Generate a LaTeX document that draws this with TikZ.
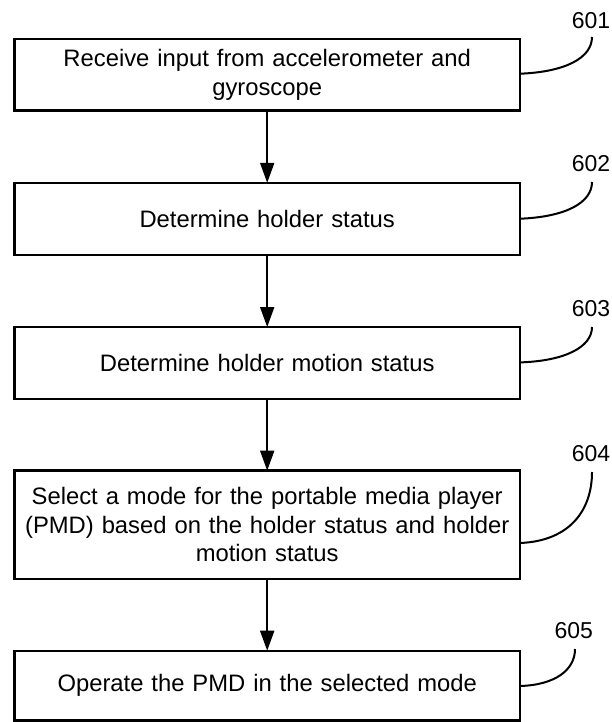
\documentclass[tikz,border=0pt]{standalone}
\usepackage{fontspec}
\setmainfont{Liberation Sans}
\usetikzlibrary{arrows.meta}
\begin{document}
\begin{tikzpicture}[x=1pt,y=-1pt,
  stepbox/.style={draw=black, line width=2.3pt, fill=white, minimum width=505.6pt, inner sep=0pt, outer sep=0pt,
    align=center, font=\fontsize{23.8}{28.5}\selectfont, text width=490pt},
  flow/.style={line width=2pt, -{Triangle[length=20pt,width=14pt]}},
  leader/.style={line width=2pt},
  reflabel/.style={font=\fontsize{23}{27}\selectfont, inner sep=0pt}]
\useasboundingbox (0,0) rectangle (611,722);
\node[stepbox, minimum height=71.8pt] (b1) at (267.2,74.6) {Receive input from accelerometer and\\gyroscope};
\node[stepbox, minimum height=71.9pt] (b2) at (267.2,218.75) {Determine holder status};
\node[stepbox, minimum height=71.8pt] (b3) at (267.2,362.9) {Determine holder motion status};
\node[stepbox, minimum height=108.3pt] (b4) at (267.2,524.75) {Select a mode for the portable media player\\(PMD) based on the holder status and holder\\motion status};
\node[stepbox, minimum height=69.8pt] (b5) at (267.2,685.6) {Operate the PMD in the selected mode};
\draw[flow] (b1) -- (b2);
\draw[flow] (b2) -- (b3);
\draw[flow] (b3) -- (b4);
\draw[flow] (b4) -- (b5);
\node[reflabel] (l1) at (591,20.7) {601};
\node[reflabel] (l2) at (591,164) {602};
\node[reflabel] (l3) at (591,308.5) {603};
\node[reflabel] (l4) at (591,453.6) {604};
\node[reflabel] (l5) at (573.7,631) {605};
\coordinate (e1) at (520,73.7);
\coordinate (e2) at (520,218.7);
\coordinate (e3) at (520,362.4);
\coordinate (e4) at (520,543);
\coordinate (e5) at (520,686);
\coordinate (t1) at (592,37);
\coordinate (t2) at (592,182);
\coordinate (t3) at (592,327);
\coordinate (t4) at (592,472);
\coordinate (t5) at (575,649);
\draw[leader] (e1) .. controls (565,72) and (592,58) .. (t1);
\draw[leader] (e2) .. controls (565,217) and (592,203) .. (t2);
\draw[leader] (e3) .. controls (565,361) and (592,347) .. (t3);
\draw[leader] (e4) .. controls (570,541) and (592,510) .. (t4);
\draw[leader] (e5) .. controls (555,685) and (575,670) .. (t5);
\end{tikzpicture}
\end{document}
